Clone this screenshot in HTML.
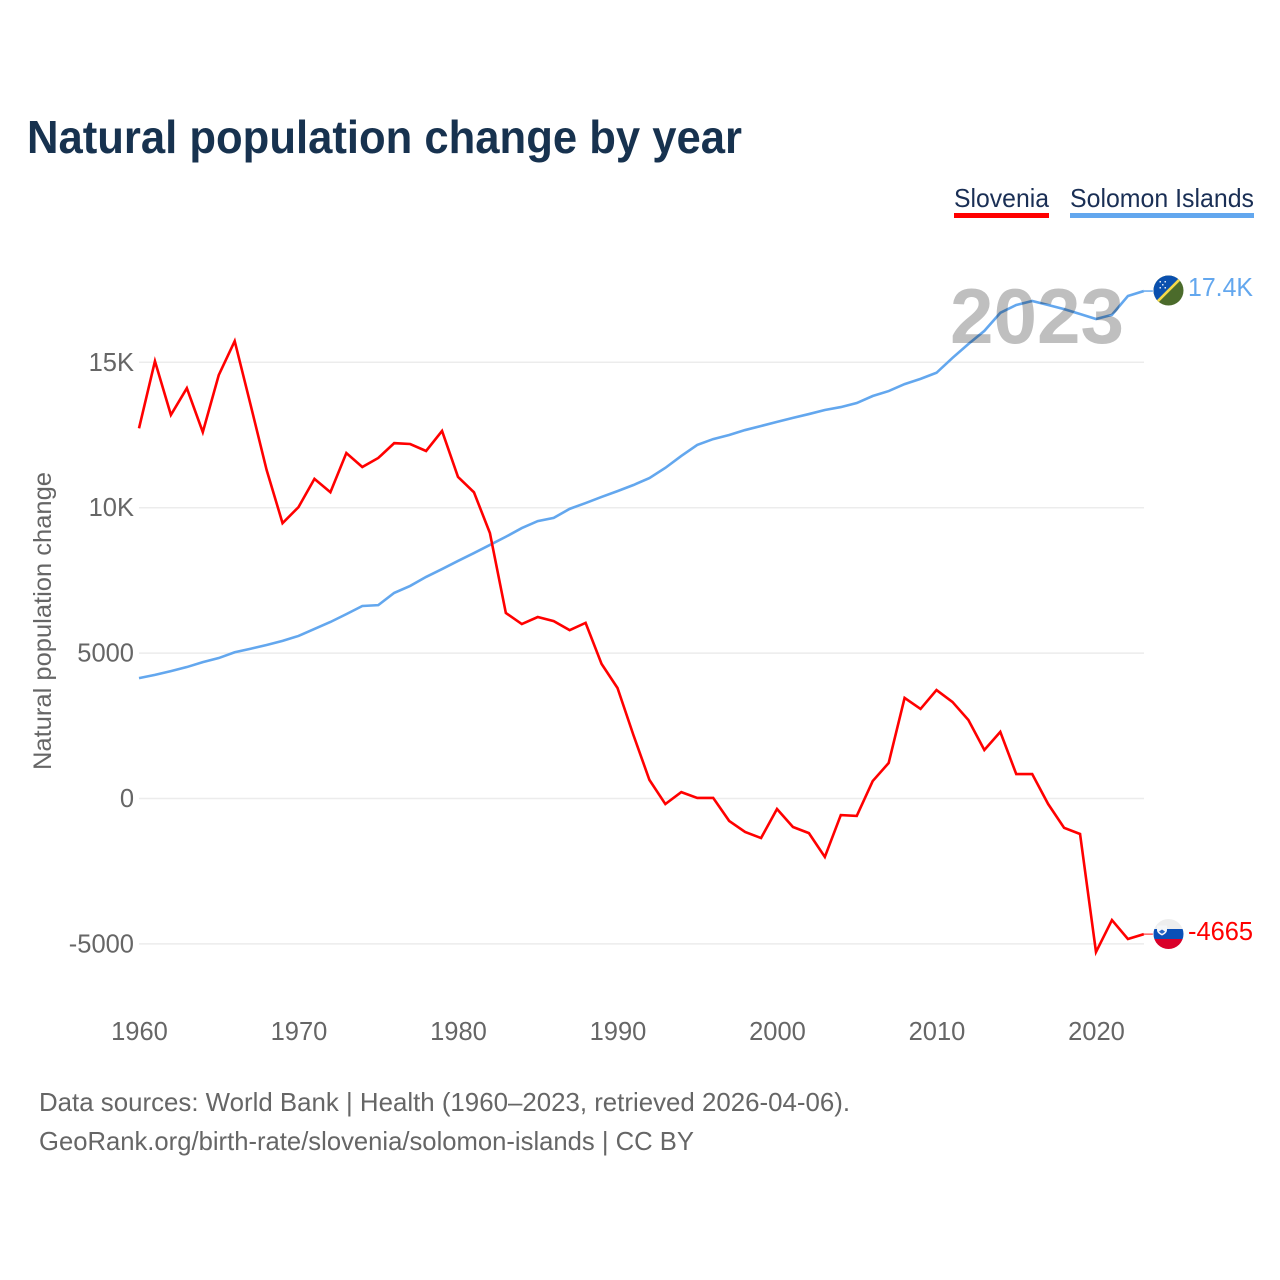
<!DOCTYPE html>
<html lang="en">
<head>
<meta charset="utf-8">
<title>Natural population change by year</title>
<style>
html,body{margin:0;padding:0;background:#fff;width:1280px;height:1280px;overflow:hidden}
svg{display:block}
text{font-family:"Liberation Sans",sans-serif}
</style>
</head>
<body>
<svg id="chart" width="1280" height="1280" viewBox="0 0 1280 1280" xmlns="http://www.w3.org/2000/svg">
  <defs>
    <clipPath id="clip-solomon"><circle cx="1168.5" cy="290.5" r="15"/></clipPath>
    <clipPath id="clip-slovenia"><circle cx="1168.5" cy="934" r="15"/></clipPath>
  </defs>
  <rect width="1280" height="1280" fill="#fff"/>
  <text x="27" y="153" font-size="46" font-weight="700" fill="#17324f" textLength="715" lengthAdjust="spacingAndGlyphs">Natural population change by year</text>

  <g>
    <text x="954" y="207" font-size="26" fill="#1a2f55" textLength="95" lengthAdjust="spacingAndGlyphs">Slovenia</text>
    <rect x="954" y="213" width="95" height="5" fill="#ff0000"/>
  </g>
  <g>
    <text x="1070" y="207" font-size="26" fill="#1a2f55" textLength="184" lengthAdjust="spacingAndGlyphs">Solomon Islands</text>
    <rect x="1070" y="213" width="184" height="5" fill="#63a7ee"/>
  </g>

  <g id="grid"></g>
  <g id="yticks"></g>
  <g id="xticks"></g>
  <text transform="translate(51,621) rotate(-90)" text-anchor="middle" font-size="25" fill="#666" textLength="298" lengthAdjust="spacingAndGlyphs">Natural population change</text>

  <g id="series"></g>
  <text x="950" y="343" font-size="78" font-weight="700" fill="#bfbfbf" textLength="174" lengthAdjust="spacingAndGlyphs" style="mix-blend-mode:multiply">2023</text>

  <g clip-path="url(#clip-solomon)">
    <rect x="1153" y="275" width="31" height="31" fill="#4b6b2b"/>
    <polygon points="1153,275 1184,275 1153,306" fill="#0a50ae"/>
    <line x1="1153" y1="306" x2="1184" y2="275" stroke="#f5d949" stroke-width="2.6"/>
    <g fill="#dfe8f5">
      <rect x="1159.500" y="281" width="1.500" height="1.500"/><rect x="1164.500" y="281" width="1.500" height="1.500"/>
      <rect x="1162" y="284" width="1.500" height="1.500"/><rect x="1159.500" y="287" width="1.500" height="1.500"/>
      <rect x="1164.500" y="287" width="1.500" height="1.500"/>
    </g>
  </g>
  <text id="label-solomon" x="1188" y="296" font-size="26" fill="#63a7ee" textLength="65" lengthAdjust="spacingAndGlyphs">17.4K</text>

  <g clip-path="url(#clip-slovenia)">
    <rect x="1153" y="919" width="31" height="10" fill="#eeeeee"/>
    <rect x="1153" y="929" width="31" height="10" fill="#0a50b8"/>
    <rect x="1153" y="939" width="31" height="11" fill="#d9002a"/>
    <path d="M1157 925.500h10v4.500c0 3-3 4.500-5 5.500c-2-1-5-2.500-5-5.500z" fill="#f4f6f8"/>
    <path d="M1159 931.500l3-2l3 2c-.8 1.200-2 1.800-3 2.300c-1-.5-2.200-1.100-3-2.300z" fill="#2a66c4"/>
  </g>
  <text id="label-slovenia" x="1188" y="940" font-size="26" fill="#ff0000" textLength="65" lengthAdjust="spacingAndGlyphs">-4665</text>

  <text x="39" y="1111" font-size="26" fill="#666" textLength="811" lengthAdjust="spacingAndGlyphs">Data sources: World Bank | Health (1960–2023, retrieved 2026-04-06).</text>
  <text x="39" y="1150" font-size="26" fill="#666" textLength="655" lengthAdjust="spacingAndGlyphs">GeoRank.org/birth-rate/slovenia/solomon-islands | CC BY</text>
</svg>
<script>
const startYear = 1960;
const xTickYears = [1960, 1970, 1980, 1990, 2000, 2010, 2020];
const yTickValues = [15000, 10000, 5000, 0, -5000];
const yTickLabels = ["15K", "10K", "5000", "0", "-5000"];
const sloveniaValues = [
  12730, 15040, 13190, 14110, 12600, 14560, 15730, 13530, 11300, 9470,
  10020, 10990, 10530, 11880, 11400, 11710, 12220, 12190, 11950, 12640,
  11060, 10530, 9130, 6380, 6000, 6240, 6100, 5790, 6040, 4630,
  3800, 2180, 640, -190, 220, 20, 20, -770, -1150, -1360,
  -360, -980, -1190, -2010, -570, -600, 600, 1220, 3460, 3080,
  3730, 3320, 2700, 1670, 2290, 840, 840, -190, -1010, -1220,
  -5280, -4180, -4830, -4665
];
const solomonValues = [
  4140, 4250, 4380, 4520, 4690, 4830, 5030, 5150, 5280, 5420,
  5590, 5830, 6070, 6340, 6620, 6650, 7070, 7310, 7620, 7890,
  8170, 8440, 8720, 9000, 9300, 9540, 9650, 9960, 10160, 10370,
  10570, 10780, 11020, 11370, 11780, 12160, 12360, 12500, 12670, 12810,
  12950, 13090, 13220, 13360, 13460, 13600, 13840, 14010, 14250, 14430,
  14640, 15150, 15630, 16080, 16700, 16970, 17110, 16970, 16830, 16660,
  16490, 16630, 17280, 17450
];

const NS = "http://www.w3.org/2000/svg";
function xScale(year) { return 139 + (year - 1960) * 15.95; }
function yScale(value) { return 798.5 - value * 0.02908; }
function pathFrom(values) {
  return values.map(function (v, i) {
    return (i ? "L" : "M") + xScale(startYear + i).toFixed(2) + " " + yScale(v).toFixed(2);
  }).join(" ");
}

const gridGroup = document.getElementById("grid");
const yGroup = document.getElementById("yticks");
const xGroup = document.getElementById("xticks");
const seriesGroup = document.getElementById("series");

yTickValues.forEach(function (v, i) {
  const line = document.createElementNS(NS, "line");
  
  
  line.setAttribute("x1", 139);
  line.setAttribute("x2", 1144);
  line.setAttribute("y1", yScale(v));
  line.setAttribute("y2", yScale(v));
  line.setAttribute("stroke", "#ececec");
  line.setAttribute("stroke-width", "1.5");
  gridGroup.appendChild(line);

  const t = document.createElementNS(NS, "text");
  
  
  t.setAttribute("x", 134);
  t.setAttribute("y", yScale(v) + 8.5);
  t.setAttribute("text-anchor", "end");
  t.setAttribute("font-size", "25.5");
  t.setAttribute("fill", "#666");
  t.textContent = yTickLabels[i];
  yGroup.appendChild(t);
});

xTickYears.forEach(function (year) {
  const t = document.createElementNS(NS, "text");
  
  
  t.setAttribute("x", xScale(year) + 0.5);
  t.setAttribute("y", 1040);
  t.setAttribute("text-anchor", "middle");
  t.setAttribute("font-size", "25.5");
  t.setAttribute("fill", "#666");
  t.textContent = String(year);
  xGroup.appendChild(t);
});

const solomonLine = document.createElementNS(NS, "path");


solomonLine.setAttribute("d", pathFrom(solomonValues));
solomonLine.setAttribute("fill", "none");
solomonLine.setAttribute("stroke", "#63a7ee");
solomonLine.setAttribute("stroke-width", "2.6");
solomonLine.setAttribute("stroke-linejoin", "miter");
seriesGroup.appendChild(solomonLine);

const sloveniaLine = document.createElementNS(NS, "path");


sloveniaLine.setAttribute("d", pathFrom(sloveniaValues));
sloveniaLine.setAttribute("fill", "none");
sloveniaLine.setAttribute("stroke", "#ff0000");
sloveniaLine.setAttribute("stroke-width", "2.6");
sloveniaLine.setAttribute("stroke-linejoin", "miter");
seriesGroup.appendChild(sloveniaLine);

const lastYear = startYear + solomonValues.length - 1;

const solomonLead = document.createElementNS(NS, "line");


solomonLead.setAttribute("x1", xScale(lastYear));
solomonLead.setAttribute("x2", xScale(lastYear) + 9);
solomonLead.setAttribute("y1", yScale(solomonValues[solomonValues.length - 1]));
solomonLead.setAttribute("y2", yScale(solomonValues[solomonValues.length - 1]));
solomonLead.setAttribute("stroke", "#63a7ee");
solomonLead.setAttribute("stroke-width", "1.5");
seriesGroup.appendChild(solomonLead);

const sloveniaLead = document.createElementNS(NS, "line");


sloveniaLead.setAttribute("x1", xScale(lastYear));
sloveniaLead.setAttribute("x2", xScale(lastYear) + 9);
sloveniaLead.setAttribute("y1", yScale(sloveniaValues[sloveniaValues.length - 1]));
sloveniaLead.setAttribute("y2", yScale(sloveniaValues[sloveniaValues.length - 1]));
sloveniaLead.setAttribute("stroke", "#ff6060");
sloveniaLead.setAttribute("stroke-width", "1.5");
seriesGroup.appendChild(sloveniaLead);
</script>
</body>
</html>
